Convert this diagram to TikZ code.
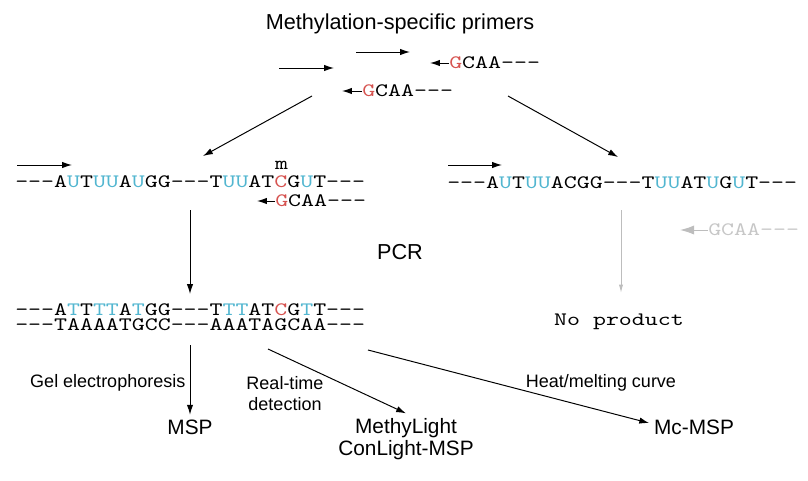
\documentclass[tikz,border=0pt]{standalone}
\usepackage{fontspec}
\setmainfont{Liberation Sans}
\newfontfamily\seqfont{lmmono10-regular.otf}[FakeStretch=1.3]
\usetikzlibrary{arrows.meta, positioning}
\definecolor{ublue}{HTML}{52B6D0}
\definecolor{mred}{HTML}{D65350}
\definecolor{faint}{HTML}{BDBDBD}
\newcommand{\bU}{\textcolor{ublue}{U}}
\newcommand{\bT}{\textcolor{ublue}{T}}
\newcommand{\rC}{\textcolor{mred}{C}}
\newcommand{\rG}{\textcolor{mred}{G}}
\tikzset{
    heading/.style={
        inner sep=2pt, font=\fontsize{15.4}{18}\selectfont
    },
    seq/.style={
        anchor=west, inner sep=0pt,
        font=\fontsize{13.5}{10.6}\seqfont
    },
    primer/.style={
        anchor=west, inner sep=0pt,
        font=\fontsize{13.5}{16}\seqfont
    },
    result/.style={
        align=center, font=\fontsize{14.8}{15.6}\selectfont
    },
    method/.style={
        inner sep=1pt, align=center, font=\fontsize{12.8}{15}\selectfont
    },
    wire/.style={draw=black, line width=0.7pt, -{Latex[length=7pt, width=4.5pt]}},
    faintwire/.style={draw=faint, line width=0.7pt, -{Latex[length=10pt, width=6.5pt]}}
}
\begin{document}
\begin{tikzpicture}[x=0.025cm, y=-0.025cm]
\useasboundingbox (0,0) rectangle (808,480);

% Methylation-specific primers
\node[heading] (title) at (400,24) {Methylation-specific primers};

\coordinate (fwdA) at (279,68);
\coordinate (fwdB) at (356,52);
\node[primer] (revA) at (449,63) {\rG CAA---};
\node[primer] (revB) at (362,91) {\rG CAA---};

\draw[wire] (fwdA) -- ++(55,0);
\draw[wire] (fwdB) -- ++(54,0);
\draw[wire] (revA.west) -- ++(-19,0);
\draw[wire] (revB.west) -- ++(-20,0);

\coordinate (splitL) at (312,96);
\coordinate (splitR) at (508,96);
\coordinate (intoM) at (203,156);
\coordinate (intoU) at (618,157);
\draw[wire] (splitL) -- (intoM);
\draw[wire] (splitR) -- (intoU);

% Methylated template
\node[seq] (methT) at (15,182) {---A\bU T\bU\bU A\bU GG---T\bU\bU AT\rC G\bU T---};
\node[seq, anchor=center] (mark) at (281.5,165) {m};
\node[primer] (revM) at (275,201) {\rG CAA---};
\coordinate (fwdM) at (17,165);
\draw[wire] (fwdM) -- ++(55,0);
\draw[wire] (revM.west) -- ++(-18,0);

% Unmethylated template
\node[seq] (unmT) at (447,183) {---A\bU T\bU\bU ACGG---T\bU\bU AT\bU G\bU T---};
\node[primer, text=faint!85] (revU) at (708,230) {GCAA---};
\coordinate (fwdU) at (448,165);
\draw[wire] (fwdU) -- ++(54,0);
\draw[faintwire] (revU.west) -- ++(-28,0);

% PCR
\node[heading] (pcr) at (400,252) {PCR};

\coordinate (pcrM) at (190,210);
\coordinate (prodM) at (190,294);
\coordinate (pcrU) at (621,210);
\coordinate (prodU) at (621,293);
\draw[wire] (pcrM) -- (prodM);
\draw[faintwire, -{Latex[length=6pt, width=3pt]}] (pcrU) -- (prodU);

% double-stranded product
\node[seq, align=left] (prod) at (15,317.5)
    {---A\bT T\bT\bT A\bT GG---T\bT\bT AT\rC G\bT T---\\---TAAAATGCC---AAATAGCAA---};
\node[seq, anchor=center] (noprod) at (619,322) {No product};

% Detection
\coordinate (gelS) at (190,345);
\coordinate (rtS) at (268,349);
\coordinate (mcS) at (368,350);

\node[result] (msp) at (190,427) {MSP};
\node[result] (light) at (406,439) {MethyLight\\ConLight-MSP};
\node[result] (mcmsp) at (694,427) {Mc-MSP};

\draw[wire] (gelS) -- (msp);
\draw[wire] (rtS) -- (light.north);
\draw[wire] (mcS) -- (mcmsp.175);

\node[method, anchor=east] (gel) at (187,383) {Gel electrophoresis};
\node[method] (rt) at (285,394) {Real-time\\detection};
\node[method] (melt) at (601,383) {Heat/melting curve};

\end{tikzpicture}
\end{document}
